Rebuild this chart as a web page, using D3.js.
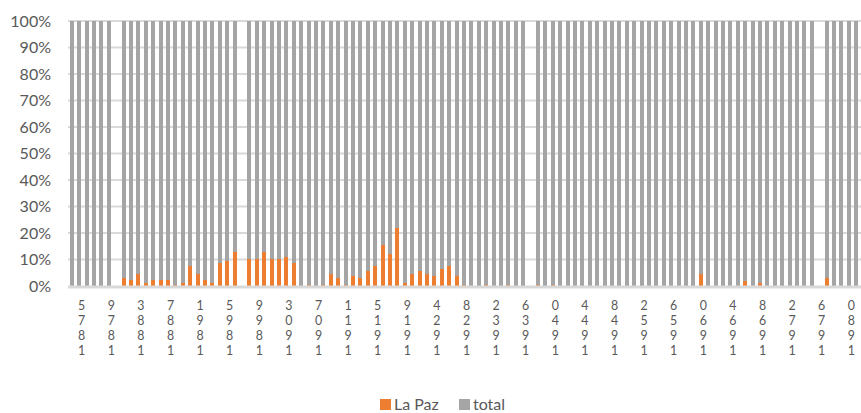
<!DOCTYPE html>
<html>
<head>
<meta charset="utf-8">
<script src="https://cdn.jsdelivr.net/npm/d3@7"></script>
<style>
    body { margin: 0; background: #fff; }
    text { font-family: Lato, "Noto Sans", sans-serif; fill: #595959; }
</style>
</head>
<body>
<svg id="chart" width="861" height="413"></svg>
<script>
// categories (one slot per year in the source table)
const years = [
    1874, 1875, 1876, 1877, 1878, 1879, 1880, 1881, 1882, 1883, 1884, 1885, 1886, 1887, 1888, 1889,
    1890, 1891, 1892, 1893, 1894, 1895, 1896, 1897, 1898, 1899, 1900, 1901, 1902, 1903, 1904, 1905,
    1906, 1907, 1908, 1909, 1910, 1911, 1912, 1913, 1914, 1915, 1916, 1917, 1918, 1919, 1921, 1922,
    1923, 1924, 1925, 1926, 1927, 1928, 1929, 1930, 1931, 1932, 1933, 1934, 1935, 1936, 1937, 1938,
    1939, 1940, 1941, 1942, 1943, 1944, 1945, 1946, 1947, 1948, 1949, 1950, 1951, 1952, 1953, 1954,
    1955, 1956, 1957, 1958, 1959, 1960, 1961, 1962, 1963, 1964, 1965, 1966, 1967, 1968, 1969, 1970,
    1971, 1972, 1973, 1974, 1975, 1976, 1977, 1978, 1979, 1980, 1981
];

// La Paz share of the total, in %, null = no data that year
const laPaz = [
    0, 0, 0, 0, 0, 0, null, 3.2, 2.2, 4.7, 1.3, 2.2, 2.2, 2.3, 0.5, 1.3,
    7.5, 4.7, 2.1, 1.2, 8.6, 9.3, 12.8, null, 10.2, 10.2, 12.8, 10.2, 10.2, 11.1, 8.6, 0,
    0.3, 0, 0.3, 4.7, 3.0, 0.3, 3.9, 3.0, 5.6, 7.6, 15.5, 12.0, 21.8, 1.2, 4.7, 5.6,
    4.7, 3.9, 6.5, 7.6, 3.9, 0.3, 0, 0, 0.2, 0, 0, 0.3, 0, 0, null, 0.2,
    0, 0.2, 0, 0, 0, 0, 0, 0, 0, 0, 0, 0, 0, 0, 0, 0,
    0, 0, 0, 0, 0, 4.7, 0, 0, 0, 0, 0, 2.0, 0, 1.2, 0, 0,
    0, 0, 0, 0, 0, null, 3.0, 0, 0, 0, 0
];

const seriesKeys = ["laPaz", "total"];
const seriesNames = ["La Paz", "total"];
const seriesColors = ["#ED7D31", "#A5A5A5"];
const yTicks = [0, 10, 20, 30, 40, 50, 60, 70, 80, 90, 100];

let margin = {top: 21, left: 68, right: 861, bottom: 286};

let svg = d3.select("#chart");

let x = d3.scaleBand()
    .domain(years)
    .range([margin.left, 860])
    .paddingInner(0.47)
    .paddingOuter(0.25);

let y = d3.scaleLinear()
    .domain([0, 100])
    .range([margin.bottom, margin.top]);

// gridlines
svg.append("g")
    .selectAll("line")
    .data(yTicks.filter(d => d > 0))
    .enter()
    .append("line")
    .attr("x1", margin.left)
    .attr("x2", margin.right)
    .attr("y1", d => y(d))
    .attr("y2", d => y(d))
    .attr("stroke", "#d9d9d9")
    .attr("stroke-width", 2);

// y axis labels
let yAxis = svg.append("g")
    .attr("transform", "translate(" + margin.left + ",0)")
    .call(d3.axisLeft(y).tickValues(yTicks).tickSize(0).tickPadding(17).tickFormat(d => d + "%"));
yAxis.select(".domain").remove();
yAxis.selectAll("text")
    .style("font-size", "16px")
    .style("fill", "#595959")
    .style("font-family", "Lato, 'Noto Sans', sans-serif");

// stacked 100% bars
let rows = [];
years.forEach((yr, i) => {
    if (laPaz[i] != null) {
        rows.push({year: yr, laPaz: laPaz[i], total: 100 - laPaz[i]});
    }
});
let stacked = d3.stack().keys(seriesKeys)(rows);

svg.append("g")
    .selectAll("g")
    .data(stacked)
    .enter()
    .append("g")
    .attr("fill", (d, i) => seriesColors[i])
    .selectAll("rect")
    .data(d => d)
    .enter()
    .append("rect")
    .attr("x", d => x(d.data.year))
    .attr("y", d => y(d[1]))
    .attr("width", x.bandwidth())
    .attr("height", d => y(d[0]) - y(d[1]))
    .attr("shape-rendering", "crispEdges");

// x axis line
svg.append("line")
    .attr("x1", margin.left)
    .attr("x2", margin.right)
    .attr("y1", margin.bottom + 1)
    .attr("y2", margin.bottom + 1)
    .attr("stroke", "#d9d9d9")
    .attr("stroke-width", 3);

// x labels: every 4th year, digits stacked bottom-up
let labels = svg.append("g")
    .selectAll("text")
    .data(years.filter((d, i) => i % 4 === 1))
    .enter()
    .append("text")
    .attr("text-anchor", "middle")
    .style("font-size", "12.4px");
labels.each(function(d) {
    let chars = String(d).split("").reverse();
    let t = d3.select(this);
    chars.forEach((c, j) => {
        t.append("tspan")
            .attr("x", x(d) + x.bandwidth() / 2 + 2.5)
            .attr("y", 310 + j * 15)
            .text(c);
    });
});

// legend
let legend = svg.append("g");
let legendX = [380, 459];
seriesNames.forEach((name, i) => {
    legend.append("rect")
        .attr("x", legendX[i])
        .attr("y", 399)
        .attr("width", 11)
        .attr("height", 11)
        .attr("fill", seriesColors[i]);
    legend.append("text")
        .attr("x", legendX[i] + 14)
        .attr("y", 410)
        .style("font-size", "16px")
        .text(name);
});
</script>
</body>
</html>
